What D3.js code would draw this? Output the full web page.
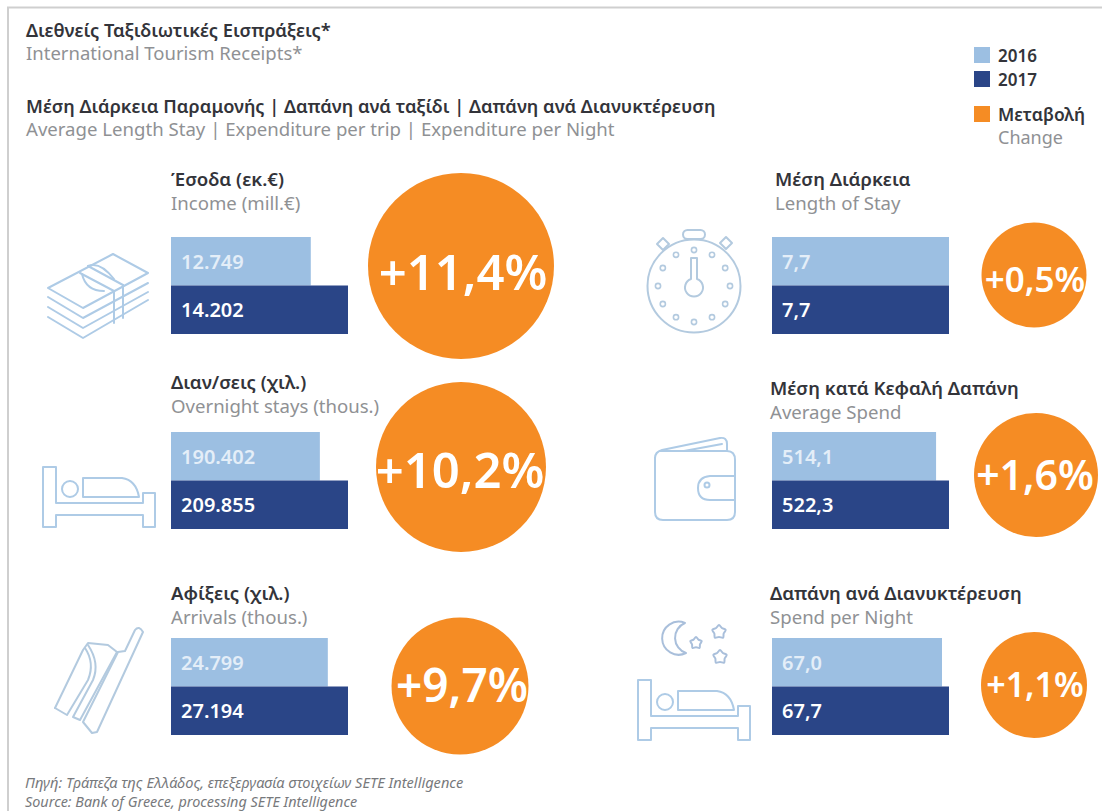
<!DOCTYPE html>
<html>
<head>
<meta charset="utf-8">
<script src="https://cdn.jsdelivr.net/npm/d3@7"></script>
<style>
  html, body { margin: 0; padding: 0; background: #fff; }
  svg { display: block; }
  text { font-family: "Noto Sans", "Open Sans", sans-serif; }
  .icon { fill: none; stroke: #aecbe6; stroke-width: 2; stroke-linejoin: round; stroke-linecap: round; }
</style>
</head>
<body>
<svg width="1102" height="811"></svg>
<script>
const years = ['2016', '2017'];

const panelTitles = ['Έσοδα (εκ.€)', 'Διαν/σεις (χιλ.)', 'Αφίξεις (χιλ.)', 'Μέση Διάρκεια', 'Μέση κατά Κεφαλή Δαπάνη', 'Δαπάνη ανά Διανυκτέρευση'];
const panelSubtitles = ['Income (mill.€)', 'Overnight stays (thous.)', 'Arrivals (thous.)', 'Length of Stay', 'Average Spend', 'Spend per Night'];
const values2016 = [12749, 190402, 24799, 7.7, 514.1, 67.0];
const values2017 = [14202, 209855, 27194, 7.7, 522.3, 67.7];
const changes = [11.4, 10.2, 9.7, 0.5, 1.6, 1.1];
// the bars in the picture do not start at zero, each one has its own cut
const axisStarts = [7290, 87500, 6190, 0, 410, 50];
const valueFormats = [',.0f', ',.0f', ',.0f', '.1f', '.1f', '.1f'];

const barColor = d3.scaleOrdinal().domain(years).range(['#9cbfe2', '#2a4587']);
const barLabelColor = d3.scaleOrdinal().domain(years).range(['#e4eef8', '#ffffff']);
const orange = '#f58c24';

const greek = d3.formatLocale({ decimal: ',', thousands: '.', grouping: [3], currency: ['', '€'] });

// layout of the six panels
const barLeft = [171, 171, 171, 772, 772, 772];
const barTop = [237, 432, 638, 237, 432, 638];
const labelLeft = [171, 171, 171, 775, 770, 770];
const labelBase = [186, 389, 600, 186, 395, 600];
const circleX = [461, 461, 460, 1034, 1036, 1034];
const circleY = [266, 467, 686, 275, 475, 685];
const changeX = [463, 460, 462, 1035, 1035, 1035];
const changeBase = [290, 488, 702, 292, 490, 697];
const barWidth = 177;
const barHeight = 97;

// bubbles are not proportional in the source, so the scale is piecewise
const changeDomain = [0.5, 1.1, 1.6, 9.7, 10.2, 11.4];
const radius = d3.scaleLinear()
  .domain(changeDomain)
  .range([52.5, 53, 62, 68.5, 85, 93]);
const changeFont = d3.scaleLinear()
  .domain(changeDomain)
  .range([35, 34, 41, 46, 49, 49]);

const svg = d3.select('svg');

// frame
svg.append('path')
  .attr('d', 'M8,811 V7.5 H1102')
  .attr('fill', 'none')
  .attr('stroke', '#cfcfcf')
  .attr('stroke-width', 2);

function addText(x, y, str, size, weight, color, anchor) {
  return svg.append('text')
    .attr('x', x)
    .attr('y', y)
    .attr('font-size', size)
    .attr('font-weight', weight)
    .attr('fill', color)
    .attr('text-anchor', anchor || 'start')
    .text(str);
}

const dark = '#33343a';
const grey = '#8f9194';

addText(26, 36.5, 'Διεθνείς Ταξιδιωτικές Εισπράξεις*', 18.3, 600, dark);
addText(26, 59.5, 'International Tourism Receipts*', 18.5, 400, grey);
addText(26, 112.5, 'Μέση Διάρκεια Παραμονής | Δαπάνη ανά ταξίδι | Δαπάνη ανά Διανυκτέρευση', 18.2, 600, dark);
addText(26, 135.5, 'Average Length Stay | Expenditure per trip | Expenditure per Night', 18.6, 400, grey);

// legend
const legendY = d3.scalePoint().domain(years).range([47, 71]);
years.forEach((year) => {
  svg.append('rect')
    .attr('x', 974)
    .attr('y', legendY(year))
    .attr('width', 16)
    .attr('height', 16)
    .attr('fill', barColor(year));
  addText(998, legendY(year) + 15, year, 17, 600, dark);
});
svg.append('rect')
  .attr('x', 974)
  .attr('y', 106)
  .attr('width', 16)
  .attr('height', 16)
  .attr('fill', orange);
addText(998, 121, 'Μεταβολή', 17.5, 600, dark);
addText(998, 144, 'Change', 18, 400, grey);

// panels
panelTitles.forEach((title, i) => {
  addText(labelLeft[i], labelBase[i], title, 18.6, 600, dark);
  addText(labelLeft[i], labelBase[i] + 24, panelSubtitles[i], 18.6, 400, grey);

  const x = d3.scaleLinear()
    .domain([axisStarts[i], Math.max(values2016[i], values2017[i])])
    .range([0, barWidth]);
  const y = d3.scaleBand()
    .domain(years)
    .range([barTop[i], barTop[i] + barHeight]);
  const format = greek.format(valueFormats[i]);

  const rows = [
    { year: '2016', value: values2016[i] },
    { year: '2017', value: values2017[i] }
  ];

  svg.selectAll(null)
    .data(rows)
    .join('rect')
    .attr('x', barLeft[i])
    .attr('y', (d) => y(d.year))
    .attr('width', (d) => x(d.value))
    .attr('height', y.bandwidth())
    .attr('fill', (d) => barColor(d.year));

  svg.selectAll(null)
    .data(rows)
    .join('text')
    .attr('x', barLeft[i] + 10)
    .attr('y', (d) => y(d.year) + y.bandwidth() / 2 + 7.5)
    .attr('font-size', 20)
    .attr('font-weight', 600)
    .attr('fill', (d) => barLabelColor(d.year))
    .text((d) => format(d.value));

  svg.append('circle')
    .attr('cx', circleX[i])
    .attr('cy', circleY[i])
    .attr('r', radius(changes[i]))
    .attr('fill', orange);

  svg.append('text')
    .attr('x', changeX[i])
    .attr('y', changeBase[i])
    .attr('font-size', changeFont(changes[i]))
    .attr('font-weight', 600)
    .attr('fill', '#fff')
    .attr('text-anchor', 'middle')
    .text(greek.format('+.1f')(changes[i]) + '%');
});

// icons
const icons = svg.append('g').attr('class', 'icon');

function drawBed(dx, dy) {
  const g = icons.append('g').attr('transform', 'translate(' + dx + ',' + dy + ')');
  g.append('path').attr('d', 'M43,467 H56 V503 H143 V493 H155 V527 H143 V515 H56 V527 H43 Z');
  g.append('circle').attr('cx', 70).attr('cy', 489).attr('r', 8);
  g.append('path').attr('d', 'M83,478 H122 Q136,480 139,497 H83 Z');
}

function drawMoney() {
  const g = icons.append('g');
  g.append('path').attr('d', 'M48,288 L113,254 L148,273 L83,308 Z');
  [[297, 318, 283], [307, 328, 292], [317, 338, 300]].forEach((k) => {
    g.append('path').attr('d', 'M48,' + k[0] + ' L83,' + k[1] + ' L148,' + k[2]);
  });
  g.append('path').attr('d', 'M82,274 Q86,291 104,291 M88,266 Q100,261 114,279');
  g.append('path').attr('d', 'M80,273 L114,291 M88,266 L123,285');
  g.append('path').attr('d', 'M114,291 V323 M123,285 V318');
}

function drawWatch() {
  const g = icons.append('g').attr('stroke', '#b3cadf');
  g.append('circle').attr('cx', 694).attr('cy', 286).attr('r', 46.5);
  g.append('rect').attr('x', 683).attr('y', 230).attr('width', 22).attr('height', 9).attr('rx', 4.5);
  g.append('path').attr('d', 'M657,244 L663,238 L669,244 L663,250 Z');
  g.append('path').attr('d', 'M720,243 L726,237 L732,243 L726,249 Z');
  g.append('path').attr('d', 'M691,279 V258 H697 V279 A9,9 0 1 1 691,279 Z');
  d3.range(12).forEach((k) => {
    const a = k * Math.PI / 6;
    g.append('circle')
      .attr('cx', 694 + 36 * Math.sin(a))
      .attr('cy', 286 - 36 * Math.cos(a))
      .attr('r', 2.6)
      .attr('stroke-width', 1.6);
  });
}

function drawWallet() {
  const g = icons.append('g');
  g.append('path').attr('d', 'M735,478 V460 Q735,451 727,451 H660 M655,458 V512 Q655,520 663,520 H727 Q735,520 735,512 V500');
  g.append('path').attr('d', 'M655,458 Q655,452 662,450 L720,438 Q727,437 727,444 V451');
  g.append('path').attr('d', 'M684,451 L722,444');
  g.append('path').attr('d', 'M735,476 H710 Q698,477 698,488 Q698,500 710,500 H735 Z');
  g.append('circle').attr('cx', 707).attr('cy', 485).attr('r', 2.5);
}

function drawSki() {
  const g = icons.append('g').attr('stroke', '#b3cadf');
  g.append('path').attr('d', 'M135,630 Q139,625 143,632 L97,732 L92,733 L83,722 L118,652 L125,651 Z');
  g.append('path').attr('d', 'M55,708 L83,650 L88,643 L108,645 L117,652');
  g.append('path').attr('d', 'M85,648 Q95,663 88,680 L67,715 L55,708');
  g.append('path').attr('d', 'M88,645 Q100,663 93,680 L73,717 L80,720 L117,652');
}

function drawNight() {
  const g = icons.append('g').attr('stroke', '#a9bfdb');
  g.append('path').attr('d', 'M685,623 A16.5,16.5 0 1 0 686,653 A16,16 0 0 1 685,623 Z');
  [[719, 632, 7], [720, 657, 7], [696, 643, 6]].forEach((s) => {
    const pts = d3.range(10).map((k) => {
      const a = k * Math.PI / 5;
      const r = k % 2 ? s[2] * 0.7 : s[2];
      return [s[0] + r * Math.sin(a), s[1] - r * Math.cos(a)];
    });
    g.append('path').attr('d', d3.line().curve(d3.curveCardinalClosed)(pts));
  });
}

drawMoney();
drawBed(0, 0);
drawSki();
drawWatch();
drawWallet();
drawNight();
drawBed(595, 213);

// source
svg.append('text')
  .attr('x', 25).attr('y', 788)
  .attr('font-size', 14.6).attr('font-style', 'italic').attr('fill', '#77797c')
  .text('Πηγή: Τράπεζα της Ελλάδος, επεξεργασία στοιχείων SETE Intelligence');
svg.append('text')
  .attr('x', 25).attr('y', 807)
  .attr('font-size', 14.4).attr('font-style', 'italic').attr('fill', '#77797c')
  .text('Source: Bank of Greece, processing SETE Intelligence');
</script>
</body>
</html>
